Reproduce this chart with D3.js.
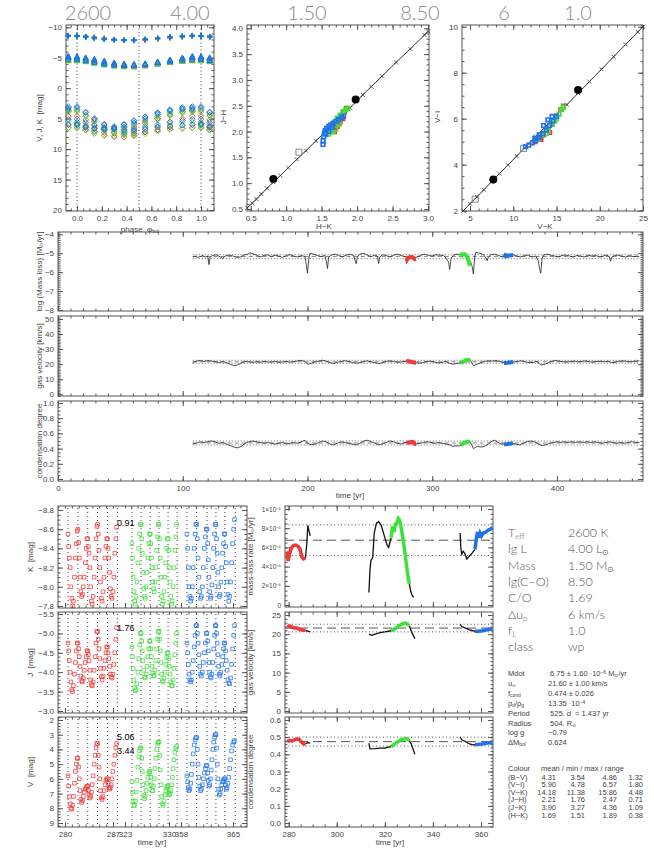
<!DOCTYPE html>
<html>
<head>
<meta charset="utf-8">
<script src="https://cdn.jsdelivr.net/npm/d3@7"></script>
<style>
body { margin: 0; background: #fff; }
svg { display: block; font-family: "Liberation Sans", Arial, sans-serif; }
.tick text { font-size: 8px; fill: #444; font-family: "Liberation Sans", Arial, sans-serif; }
.tick line { stroke: #555; }
.small .tick text { font-size: 6.5px; }
text { white-space: pre; }
</style>
</head>
<body>
<svg id="chart" width="654" height="861"></svg>
<script>
// ---------------- data ----------------
var topNumbers = ["2600", "4.00", "1.50", "8.50", "6", "1.0"];

// bolometric phase of the samples inside one pulsation cycle
var cyclePhase = [0, 0.07, 0.14, 0.22, 0.3, 0.38, 0.46, 0.55, 0.65, 0.75, 0.85, 0.93];

// start of each cycle (maximum light) in the three time windows [yr]
var redStarts = [280.44, 281.88, 283.31, 284.75, 286.19, 287.63];
var greenStarts = [324.1, 325.55, 327.0, 328.4, 329.85, 331.3];
var blueStarts = [358.8, 360.1, 361.5, 362.7, 363.9, 365.3];

var kRed = [
  [-8.55,-8.42,-8.3,-8.2,-8.0,-7.88,-7.8,-7.85,-8.1,-8.3,-8.45,-8.58],
  [-8.6,-8.46,-8.3,-8.1,-7.95,-7.9,-7.92,-8.0,-8.1,-8.25,-8.4,-8.5],
  [-8.5,-8.42,-8.35,-8.2,-8.0,-7.85,-7.82,-7.9,-8.1,-8.3,-8.5,-8.63],
  [-8.65,-8.55,-8.38,-8.2,-8.05,-7.88,-7.85,-7.95,-8.1,-8.3,-8.42,-8.5],
  [-8.5,-8.4,-8.3,-8.15,-7.98,-7.9,-7.88,-7.95,-8.1,-8.35,-8.5,-8.62]];
var kGreen = [
  [-8.45,-8.3,-8.1,-7.95,-7.85,-7.82,-7.9,-8.05,-8.25,-8.4,-8.55,-8.65],
  [-8.65,-8.5,-8.35,-8.15,-7.98,-7.9,-7.88,-8.0,-8.15,-8.3,-8.45,-8.55],
  [-8.55,-8.45,-8.3,-8.2,-8.05,-7.98,-7.95,-8.05,-8.2,-8.38,-8.52,-8.65],
  [-8.65,-8.5,-8.3,-8.1,-7.9,-7.82,-7.85,-7.95,-8.1,-8.25,-8.4,-8.5],
  [-8.5,-8.38,-8.2,-8.05,-7.9,-7.82,-7.85,-8.0,-8.2,-8.38,-8.52,-8.65]];
var kBlue = [
  [-8.55,-8.4,-8.2,-8.0,-7.9,-7.85,-7.88,-8.0,-8.2,-8.4,-8.55,-8.65],
  [-8.65,-8.5,-8.3,-8.1,-7.95,-7.88,-7.9,-8.0,-8.2,-8.4,-8.52,-8.6],
  [-8.6,-8.45,-8.28,-8.1,-7.95,-7.88,-7.9,-8.02,-8.2,-8.4,-8.55,-8.65],
  [-8.65,-8.5,-8.35,-8.15,-8.0,-7.9,-7.92,-8.05,-8.2,-8.35,-8.45,-8.55],
  [-8.55,-8.42,-8.25,-8.05,-7.92,-7.85,-7.9,-8.05,-8.25,-8.45,-8.6,-8.7]];

var jRed = [
  [-4.75,-4.55,-4.3,-4.0,-3.75,-3.55,-3.5,-3.65,-3.95,-4.25,-4.55,-4.75],
  [-4.75,-4.6,-4.4,-4.15,-3.9,-3.78,-3.75,-3.85,-4.05,-4.25,-4.4,-4.55],
  [-4.55,-4.45,-4.3,-4.05,-3.8,-3.68,-3.65,-3.75,-4.05,-4.4,-4.75,-5.05],
  [-5.05,-4.85,-4.6,-4.35,-4.1,-3.88,-3.8,-3.9,-4.1,-4.3,-4.5,-4.65],
  [-4.65,-4.5,-4.35,-4.15,-3.95,-3.88,-3.85,-3.95,-4.2,-4.5,-4.85,-5.15]];
var jGreen = [
  [-4.65,-4.4,-4.1,-3.8,-3.6,-3.52,-3.55,-3.7,-4.0,-4.35,-4.7,-5.0],
  [-5.0,-4.8,-4.55,-4.3,-4.05,-3.88,-3.85,-3.95,-4.15,-4.4,-4.6,-4.8],
  [-4.8,-4.6,-4.4,-4.15,-3.98,-3.9,-3.92,-4.05,-4.3,-4.6,-4.85,-5.05],
  [-5.05,-4.85,-4.55,-4.25,-3.95,-3.78,-3.75,-3.85,-4.0,-4.2,-4.38,-4.5],
  [-4.5,-4.35,-4.15,-3.95,-3.75,-3.65,-3.65,-3.8,-4.1,-4.45,-4.75,-5.0]];
var jBlue = [
  [-4.75,-4.5,-4.2,-3.95,-3.8,-3.75,-3.8,-4.0,-4.3,-4.65,-4.95,-5.2],
  [-5.2,-5.0,-4.75,-4.45,-4.15,-3.95,-3.9,-4.0,-4.25,-4.5,-4.75,-5.0],
  [-5.0,-4.8,-4.55,-4.25,-4.0,-3.88,-3.85,-3.95,-4.25,-4.6,-4.95,-5.2],
  [-5.2,-5.0,-4.75,-4.45,-4.15,-3.95,-3.9,-4.0,-4.2,-4.4,-4.6,-4.75],
  [-4.75,-4.55,-4.3,-4.05,-3.8,-3.72,-3.7,-3.85,-4.2,-4.6,-4.95,-5.2]];

var vRed = [
  [5.8,6.5,7.2,7.7,8.0,8.05,7.8,7.2,6.3,5.5,5.0,4.6],
  [4.6,5.2,6.0,6.8,7.4,7.6,7.5,7.2,6.9,6.7,6.6,6.5],
  [6.5,6.8,7.1,7.3,7.2,6.9,6.4,5.8,5.0,4.4,3.9,3.6],
  [3.6,4.4,5.2,6.0,6.8,7.3,7.4,7.2,6.8,6.4,6.1,6.0],
  [6.0,6.3,6.6,6.7,6.6,6.4,6.0,5.5,5.0,4.4,3.9,3.6]];
var vGreen = [
  [6.2,6.9,7.5,7.8,7.8,7.5,6.9,6.1,5.2,4.5,4.1,3.9],
  [3.9,4.6,5.5,6.4,7.1,7.35,7.2,6.8,6.3,5.9,5.6,5.5],
  [5.5,5.9,6.4,6.8,6.8,6.5,6.0,5.3,4.6,4.0,3.6,3.5],
  [3.5,4.4,5.4,6.4,7.2,7.7,7.8,7.5,7.1,6.8,6.6,6.5],
  [6.5,6.9,7.1,7.0,6.8,6.4,5.9,5.3,4.7,4.2,3.9,3.8]];
var vBlue = [
  [5.8,6.2,6.6,6.8,6.7,6.3,5.7,5.0,4.3,3.7,3.35,3.2],
  [3.2,4.0,5.0,5.9,6.5,6.8,6.7,6.4,6.0,5.6,5.3,5.1],
  [5.1,5.6,6.1,6.5,6.4,6.0,5.4,4.7,4.0,3.5,3.15,3.0],
  [3.0,3.9,5.0,6.0,6.7,7.1,7.0,6.7,6.4,6.2,6.1,6.0],
  [6.0,6.4,6.7,6.6,6.3,5.9,5.3,4.7,4.1,3.7,3.5,3.4]];

// colour-colour diagrams
var refHK = [0.45,0.52,0.58,0.65,0.73,0.82,0.92,1.03,1.15,1.28,1.42,1.57,1.73,1.9,2.08,2.2,2.35,2.55,2.75,2.95,3.0];
var refJH = [0.52,0.61,0.69,0.79,0.9,1.02,1.15,1.3,1.46,1.63,1.82,2.02,2.24,2.46,2.71,2.87,3.07,3.34,3.6,3.87,3.94];
var refVK = [4.23,5,5.8,6.6,7.5,8.4,9.4,10.4,11.5,12.6,13.8,15,16.2,17.5,18.8,20.2,21.6,23,24.4,25];
var refVI = [2.0,2.3,2.6,2.91,3.26,3.61,3.99,4.38,4.8,5.22,5.68,6.15,6.61,7.11,7.61,8.15,8.69,9.23,9.77,10.0];
var dotHK = [0.82, 1.98], dotJH = [1.08, 2.62];
var dotVK = [7.7, 17.5], dotVI = [3.36, 7.25];
var boxHK = [1.18], boxJH = [1.6];
var boxVK = [11.2, 5.6], boxVI = [4.71, 2.5];

var hkRed = [1.62,1.66,1.7,1.74,1.78,1.82,1.85,1.68,1.72,1.76,1.8,1.64];
var jhRed = [2.02,2.05,2.12,2.2,2.3,2.38,2.45,2.0,2.1,2.18,2.25,2.1];
var hkGreen = [1.6,1.64,1.68,1.72,1.76,1.8,1.84,1.87,1.66,1.7,1.75,1.62,1.78];
var jhGreen = [1.95,2.1,2.18,2.26,2.32,2.38,2.42,2.45,2.0,2.05,2.15,2.0,2.28];
var hkBlue = [1.52,1.52,1.53,1.54,1.55,1.57,1.6,1.63,1.66,1.7,1.74,1.78,1.81,1.56,1.6,1.65];
var jhBlue = [1.75,1.82,1.9,1.97,2.02,2.06,2.1,2.13,2.16,2.2,2.23,2.27,2.3,1.95,2.0,2.08];

var vkRed = [12.5,13,13.5,14,14.5,15,15.5,15.8,13.2,14.2];
var viRed = [5.0,5.15,5.3,5.5,5.8,6.1,6.4,6.55,5.1,5.4];
var vkGreen = [12.8,13.4,14,14.5,15,15.3,15.6,15.8,13.8,14.8];
var viGreen = [5.1,5.3,5.5,5.75,6.0,6.2,6.4,6.5,5.35,5.9];
var vkBlue = [11.4,11.8,12.2,12.6,13,13.4,13.8,14.2,14.6,15,13.5,14,14.5,12.5,13];
var viBlue = [4.78,4.85,4.95,5.05,5.2,5.35,5.5,5.7,5.9,6.1,5.7,5.95,6.1,5.15,5.3];

// long time series [yr, value]
var massLossLog = [[108,-5.2],[110,-5.15],[112,-5.22],[114,-5.18],[116,-5.12],[118,-5.2],[120,-5.15],[121,-5.6],[122,-5.2],[124,-5.12],[127,-5.08],[130,-5.2],[132,-5.28],[134,-5.15],[137,-5.1],[140,-5.14],[143,-5.22],[146,-5.2],[149,-5.1],[152,-5.05],[154,-4.98],[157,-5.05],[160,-5.12],[162,-5.2],[165,-5.12],[168,-5.08],[171,-5.18],[174,-5.1],[177,-5.15],[180,-5.22],[183,-5.12],[186,-5.08],[189,-5.15],[192,-5.2],[195,-5.12],[198,-5.18],[199,-5.6],[200,-6.05],[201,-5.3],[202,-5.0],[205,-5.05],[208,-5.12],[211,-5.18],[214,-5.12],[215,-5.4],[216,-5.8],[217,-5.2],[219,-5.1],[222,-5.05],[225,-5.12],[228,-5.2],[231,-5.1],[234,-5.05],[237,-5.12],[238,-5.35],[239,-5.55],[240,-5.2],[242,-5.05],[245,-5.0],[248,-5.1],[251,-5.18],[254,-5.1],[256,-5.15],[257,-5.55],[258,-5.2],[260,-5.08],[263,-5.12],[266,-5.2],[269,-5.1],[272,-5.05],[275,-5.12],[278,-5.18],[280,-5.22],[283,-5.2],[286,-5.25],[288,-5.2],[291,-5.1],[294,-5.05],[297,-5.12],[300,-5.15],[303,-5.08],[306,-5.1],[309,-5.12],[311,-5.25],[313,-5.45],[314,-5.85],[315,-5.3],[317,-5.1],[320,-5.05],[323,-5.1],[326,-5.05],[329,-5.25],[331,-5.5],[332,-5.7],[333,-6.1],[334,-5.2],[335,-4.95],[338,-5.0],[341,-5.08],[343,-5.25],[344,-5.4],[345,-5.2],[347,-5.08],[350,-5.05],[353,-5.12],[356,-5.2],[359,-5.15],[362,-5.12],[365,-5.08],[368,-5.15],[371,-5.2],[374,-5.12],[377,-5.1],[380,-5.2],[383,-5.15],[385,-5.4],[386,-5.8],[387,-6.05],[388,-5.3],[389,-5.1],[392,-5.05],[395,-5.1],[398,-5.15],[401,-5.2],[404,-5.12],[407,-5.1],[410,-5.15],[413,-5.2],[416,-5.12],[419,-5.15],[422,-5.2],[425,-5.1],[428,-5.15],[431,-5.12],[434,-5.2],[437,-5.15],[440,-5.1],[442,-5.2],[443,-5.42],[444,-5.2],[446,-5.12],[449,-5.1],[452,-5.15],[455,-5.2],[458,-5.12],[461,-5.18],[464,-5.15],[466,-5.2]];
var gasVelocity = [[108,21],[111,22],[114,22.5],[117,21.8],[120,22.4],[123,22],[126,21.5],[129,21.2],[132,21.6],[135,21],[138,20],[141,19],[144,19.5],[147,21],[150,21.8],[153,21.5],[156,21.2],[159,21.6],[162,21.3],[165,21.8],[168,21.5],[171,21.4],[174,21.7],[177,21.2],[180,21.5],[183,21.8],[186,21.4],[189,21.6],[192,22.2],[195,22.5],[198,21.8],[200,20],[203,20.5],[206,21.5],[209,22],[212,22.6],[215,22],[218,21],[221,20.5],[224,21.2],[227,21.8],[230,22.3],[233,21.8],[236,21.2],[239,20.6],[242,21],[245,21.8],[248,22.2],[251,21.6],[254,21],[257,20.4],[260,21],[263,21.8],[266,22.2],[269,21.8],[272,21.2],[275,21.5],[278,22],[281,22],[284,21.5],[287,21],[290,20.6],[293,21.2],[296,21.8],[299,22],[302,21.4],[305,20.8],[308,21.2],[311,21.8],[314,20.5],[317,20],[320,20.5],[323,21],[326,22],[329,22.8],[331,22],[333,19],[336,20],[339,21],[342,21.8],[345,22.3],[348,22],[351,22.4],[354,21.8],[357,21],[360,21],[363,21.2],[366,21.5],[369,22],[372,22.2],[375,21.5],[378,21],[381,21.2],[384,21.8],[387,19.5],[390,19.8],[393,21],[396,22],[399,22.4],[402,22],[405,21.6],[408,21.4],[411,21.8],[414,22],[417,21.5],[420,21.8],[423,22.2],[426,21.6],[429,21.4],[432,21.8],[435,22],[438,21.6],[441,22],[444,21],[447,21.4],[450,22],[453,22.2],[456,21.8],[459,21.6],[462,22],[466,22.2]];
var condensation = [[108,0.46],[111,0.47],[114,0.49],[117,0.48],[120,0.49],[123,0.5],[126,0.49],[129,0.47],[132,0.48],[135,0.46],[138,0.44],[141,0.42],[144,0.41],[147,0.43],[150,0.47],[153,0.49],[156,0.5],[159,0.49],[162,0.48],[165,0.47],[168,0.48],[171,0.47],[174,0.46],[177,0.47],[180,0.48],[183,0.46],[186,0.47],[189,0.48],[192,0.47],[195,0.49],[198,0.51],[200,0.47],[203,0.45],[206,0.46],[209,0.48],[212,0.5],[215,0.49],[218,0.46],[221,0.45],[224,0.47],[227,0.49],[230,0.48],[233,0.47],[236,0.46],[239,0.45],[242,0.47],[245,0.5],[248,0.51],[251,0.49],[254,0.47],[257,0.45],[260,0.46],[263,0.48],[266,0.5],[269,0.49],[272,0.47],[275,0.46],[278,0.48],[281,0.48],[284,0.49],[287,0.46],[290,0.47],[293,0.48],[296,0.49],[299,0.48],[302,0.47],[305,0.48],[308,0.47],[311,0.46],[314,0.45],[316,0.43],[319,0.435],[322,0.435],[325,0.46],[328,0.48],[330,0.49],[332,0.44],[333,0.4],[336,0.43],[339,0.42],[342,0.43],[345,0.46],[348,0.5],[350,0.51],[352,0.49],[355,0.46],[358,0.46],[361,0.465],[364,0.47],[367,0.46],[370,0.45],[373,0.47],[376,0.49],[379,0.5],[382,0.49],[385,0.46],[388,0.44],[391,0.45],[394,0.47],[397,0.48],[400,0.49],[403,0.48],[406,0.49],[409,0.48],[412,0.49],[415,0.48],[418,0.49],[421,0.48],[424,0.49],[427,0.48],[430,0.49],[433,0.48],[436,0.47],[439,0.48],[442,0.49],[445,0.48],[448,0.47],[451,0.48],[454,0.47],[457,0.48],[460,0.49],[463,0.48],[466,0.48]];

// detailed windows: mass-loss rate [1e-6 Msun/yr]
var mdotRed = [[279.4,5.6],[279.8,4.6],[280.3,5.2],[281,5.9],[282,6.2],[283,6.25],[284,6.1],[284.8,5.8],[285.5,5.0],[286.2,4.8],[287,4.9]];
var mdotBlack1 = [[287,4.9],[287.6,6.5],[288,8.3],[288.4,7.8],[289,7.2]];
var mdotBlack2 = [[313.4,1.3],[313.8,3.5],[314.2,4.6],[315,5.0],[315.6,7.5],[316.5,8.5],[317.4,8.7],[318.5,8.3],[319.8,7.2],[321,6.2],[321.6,6.0],[322.6,7.0]];
var mdotGreen = [[322.6,7.0],[323.2,8.2],[323.8,7.6],[324.4,8.4],[325,8.6],[325.6,9.0],[326.2,8.8],[327,7.8],[327.8,6.5],[328.6,5.0],[329.4,3.4],[330.2,2.2]];
var mdotBlack3 = [[330.2,2.2],[330.8,1.4],[331.4,1.0],[332,0.8]];
var mdotBlack4 = [[351.3,7.5],[351.6,6.0],[352,5.3],[352.6,5.6],[353.2,5.4],[354.1,4.8],[355.2,5.1],[356.3,5.4],[357.5,5.8]];
var mdotBlue = [[357.5,5.8],[358,6.8],[358.5,7.6],[359,7.0],[359.6,7.5],[360.2,7.2],[361,7.5],[362,7.6],[363,7.8],[364,7.9],[364.8,8.1]];

var velRed = [[279.4,22.0],[280.5,22.1],[281.5,21.8],[282.5,21.6],[283.5,21.6],[284.5,21.3],[285.5,21.1],[286.5,21.0],[287,21.0]];
var velBlack1 = [[287,21.0],[288,20.8],[289,20.6]];
var velBlack2 = [[313.4,20.0],[314.5,19.7],[316,20.0],[318,20.4],[320,20.6],[322.6,20.9]];
var velGreen = [[322.6,20.9],[324,21.3],[325.5,22.0],[327,22.6],[328.5,22.9],[329.5,22.6],[330.2,22.2]];
var velBlack3 = [[330.2,22.2],[331,20.8],[332,19.5],[332.5,18.8]];
var velBlack4 = [[351.3,22.6],[352,22.0],[353.5,21.6],[355,21.2],[356.5,20.9],[357.5,20.8]];
var velBlue = [[357.5,20.8],[359,20.8],[360.5,20.9],[362,21.1],[363.5,21.3],[364.8,21.4]];

var condRed = [[279.4,0.475],[280.5,0.48],[281.5,0.478],[282.5,0.485],[283.5,0.49],[284.5,0.485],[285.5,0.47],[286.5,0.46],[287,0.462]];
var condBlack1 = [[287,0.462],[288,0.468],[289,0.465]];
var condBlack2 = [[313.4,0.465],[313.8,0.432],[316,0.433],[318,0.436],[320,0.437],[322.6,0.445]];
var condGreen = [[322.6,0.445],[324,0.46],[325.5,0.475],[327,0.485],[328.5,0.492],[329.5,0.488],[330.2,0.48]];
var condBlack3 = [[330.2,0.48],[331,0.46],[332,0.42],[332.5,0.4]];
var condBlack4 = [[351.3,0.5],[352,0.485],[353.5,0.475],[355,0.462],[356.5,0.455],[357.5,0.456]];
var condBlue = [[357.5,0.456],[359,0.458],[360.5,0.46],[362,0.465],[363.5,0.468],[364.8,0.472]];

// model parameters and statistics
var mdotMean = 6.75, mdotSig = 1.60, velMean = 21.60, velSig = 1.00, condMean = 0.474, condSig = 0.026;
var ampNotes = ["0.91", "1.76", "5.06", "3.44"];
var paramNames = [[["T"],["eff","sub"]], [["lg L"]], [["Mass"]], [["lg(C−O)"]], [["C/O"]], [["Δu"],["p","sub"]], [["f"],["L","sub"]], [["class"]]];
var paramValues = [[["2600 K"]], [["4.00 L"],["⊙","sub"]], [["1.50 M"],["⊙","sub"]], [["8.50"]], [["1.69"]], [["6 km/s"]], [["1.0"]], [["wp"]]];
var statNames = [[["Mdot"]], [["u"],["∞","sub"]], [["f"],["cond","sub"]], [["ρ"],["d","sub"],["/ρ"],["g","sub"]], [["Period"]], [["Radius"]], [["log g"]], [["ΔM"],["bol","sub"]]];
var statValues = [[[" 6.75 ± 1.60 ·10"],["−6","sup"],[" M"],["⊙","sub"],["/yr"]], [["21.60 ± 1.00 km/s"]], [["0.474 ± 0.026"]], [["13.35 ·10"],["−4","sup"]], [[" 525. d  = 1.437 yr"]], [[" 504. R"],["⊙","sub"]], [["−0.79"]], [["0.624"]]];
var colourNames = ["(B−V)", "(V−I)", "(V−K)", "(J−H)", "(J−K)", "(H−K)"];
var colourMean = [4.31, 5.90, 14.18, 2.21, 3.90, 1.69];
var colourMin = [3.54, 4.78, 11.38, 1.76, 3.27, 1.51];
var colourMax = [4.86, 6.57, 15.86, 2.47, 4.36, 1.89];
var colourRange = [1.32, 1.80, 4.48, 0.71, 1.09, 0.38];

// ---------------- drawing ----------------
var red = "#f03838", green = "#3ee03a", blue = "#1f72ea", ink = "#444";
var svg = d3.select("#chart");
var blank = function() { return ""; };

function steps(a, b, s) {
    return d3.range(Math.ceil(a / s - 1e-6), Math.floor(b / s + 1e-6) + 1).map(function(i) { return +(i * s).toFixed(6); });
}

function rich(t, parts) {
    parts.forEach(function(p) {
        var s = t.append("tspan").text(p[0]);
        if (p[1] === "sub") s.attr("baseline-shift", "-25%").attr("font-size", "65%");
        if (p[1] === "sup") s.attr("baseline-shift", "45%").attr("font-size", "65%");
    });
    return t;
}

function label(x, y, parts, size, rot, anchor) {
    var t = svg.append("text").attr("font-size", size).attr("fill", ink)
        .attr("text-anchor", anchor || "middle")
        .attr("transform", "translate(" + x + "," + y + ")" + (rot ? " rotate(-90)" : ""));
    return rich(t, parts);
}

// IDL style box: ticks inward on all four sides
function frame(b, x, y, o) {
    var g = svg.append("g").attr("class", o.cls || null);
    function add(gen, tr, vals, len, fmt) {
        g.append("g").attr("transform", tr)
            .call(gen.tickValues(vals).tickSize(len).tickPadding(4).tickFormat(fmt))
            .call(function(s) { s.select(".domain").remove(); });
    }
    if (o.xt) {
        var xd = [x.invert(b.l), x.invert(b.r)].sort(d3.ascending);
        var xM = steps(xd[0], xd[1], o.xt), xm = steps(xd[0], xd[1], o.xm);
        add(d3.axisBottom(x), "translate(0," + b.b + ")", xm, -2.5, blank);
        add(d3.axisBottom(x), "translate(0," + b.b + ")", xM, -5, o.xf || blank);
        add(d3.axisTop(x), "translate(0," + b.t + ")", xm, -2.5, blank);
        add(d3.axisTop(x), "translate(0," + b.t + ")", xM, -5, blank);
    }
    var yd = [y.invert(b.b), y.invert(b.t)].sort(d3.ascending);
    var yM = steps(yd[0], yd[1], o.yt), ym = steps(yd[0], yd[1], o.ym);
    add(d3.axisLeft(y), "translate(" + b.l + ",0)", ym, -2.5, blank);
    add(d3.axisLeft(y), "translate(" + b.l + ",0)", yM, -5, o.yf || blank);
    add(d3.axisRight(y), "translate(" + b.r + ",0)", ym, -2.5, blank);
    add(d3.axisRight(y), "translate(" + b.r + ",0)", yM, -5, blank);
    g.append("rect").attr("x", b.l).attr("y", b.t).attr("width", b.r - b.l).attr("height", b.b - b.t)
        .attr("fill", "none").attr("stroke", "#555");
    return g;
}

function pathOf(x, y) {
    return d3.line().x(function(d) { return x(d[0]); }).y(function(d) { return y(d[1]); });
}

function hline(x0, x1, yy, dash, col) {
    svg.append("line").attr("x1", x0).attr("x2", x1).attr("y1", yy).attr("y2", yy)
        .attr("stroke", col || "#555").attr("stroke-width", 1).attr("stroke-dasharray", dash);
}

var markPlus = "M-2.5,0H2.5M0,-2.5V2.5";
var markDiamond = "M0,-2.8L2.8,0L0,2.8L-2.8,0Z";
var markTri = "M0,-2.8L2.6,2H-2.6Z";
var markSquare = "M-1.8,-1.8H1.8V1.8H-1.8Z";

function marks(data, x, y, path, col, sw) {
    svg.append("g").selectAll("path").data(data).enter().append("path")
        .attr("d", path)
        .attr("transform", function(d) { return "translate(" + x(d[0]) + "," + y(d[1]) + ")"; })
        .attr("fill", "none").attr("stroke", col).attr("stroke-width", sw || 1);
}

// photometric samples from the cycle tables
function photPoints(starts, K, J, V, col) {
    var pts = [];
    K.forEach(function(row, i) {
        row.forEach(function(k, j) {
            var t = starts[i] + cyclePhase[j] * (starts[i + 1] - starts[i]);
            pts.push({t: t, ph: cyclePhase[j], K: k, J: J[i][j], V: V[i][j], c: col});
        });
    });
    return pts;
}
var photo = [
    photPoints(redStarts, kRed, jRed, vRed, red),
    photPoints(greenStarts, kGreen, jGreen, vGreen, green),
    photPoints(blueStarts, kBlue, jBlue, vBlue, blue)
];

// big header numbers
var topNumX = [88, 190, 307, 420, 504, 578];
topNumbers.forEach(function(s, i) {
    svg.append("text").attr("x", topNumX[i]).attr("y", 20).attr("text-anchor", "middle")
        .attr("font-size", 20).attr("fill", "#8a8a8a").attr("font-family", "Lato, 'Liberation Sans', sans-serif")
        .attr("font-weight", 300).text(s);
});

// ---- top left: light curves folded on phase ----
(function() {
    var b = {l: 66, r: 214, t: 25, b: 211};
    var x = d3.scaleLinear().domain([0, 1]).range([77, 201]);
    var y = d3.scaleLinear().domain([-10, 20]).range([27.3, 210]);
    frame(b, x, y, {xt: 0.2, xm: 0.05, xf: d3.format(".1f"), yt: 5, ym: 1, yf: d3.format("d")});
    [0, 0.5, 1].forEach(function(p) {
        svg.append("line").attr("x1", x(p)).attr("x2", x(p)).attr("y1", b.t).attr("y2", b.b)
            .attr("stroke", ink).attr("stroke-dasharray", "1,2.5");
    });
    photo.forEach(function(set) {
        var pts = [];
        set.forEach(function(d) {
            [-1, 0, 1].forEach(function(s) {
                var p = d.ph + s;
                if (p >= -0.1 && p <= 1.1) pts.push({p: p, d: d});
            });
        });
        var col = set[0].c;
        marks(pts.map(function(q) { return [q.p, q.d.V]; }), x, y, markDiamond, col, 0.9);
        marks(pts.map(function(q) { return [q.p, q.d.J]; }), x, y, markTri, col, 0.9);
        marks(pts.map(function(q) { return [q.p, q.d.K]; }), x, y, markPlus, col, 1.2);
    });
    label(42, 118, [["V, J, K  [mag]"]], 8, true);
    label(140, 232, [["phase  φ"], ["bol", "sub"]], 8);
})();

// ---- colour-colour diagrams ----
function colourPanel(b, x, y, o, ref, dots, boxes, sets) {
    frame(b, x, y, o);
    var refPts = ref[0].map(function(v, i) { return [v, ref[1][i]]; });
    svg.append("path").attr("d", pathOf(x, y)(refPts)).attr("fill", "none").attr("stroke", "#333");
    marks(refPts, x, y, "M-2,-2L2,2M-2,2L2,-2", "#333", 0.8);
    marks(boxes[0].map(function(v, i) { return [v, boxes[1][i]]; }), x, y, "M-3,-3H3V3H-3Z", "#666", 0.8);
    sets.forEach(function(s) {
        marks(s[0].map(function(v, i) { return [v, s[1][i]]; }), x, y, markSquare, s[2], 1.6);
    });
    svg.append("g").selectAll("circle").data(dots[0]).enter().append("circle")
        .attr("cx", function(d) { return x(d); }).attr("cy", function(d, i) { return y(dots[1][i]); })
        .attr("r", 4).attr("fill", "#000");
}
colourPanel({l: 247, r: 429, t: 25, b: 211},
    d3.scaleLinear().domain([0.5, 3.0]).range([250.7, 428]),
    d3.scaleLinear().domain([0.5, 4.0]).range([209, 28.3]),
    {xt: 0.5, xm: 0.1, xf: d3.format(".1f"), yt: 0.5, ym: 0.1, yf: d3.format(".1f")},
    [refHK, refJH], [dotHK, dotJH], [boxHK, boxJH],
    [[hkRed, jhRed, red], [hkGreen, jhGreen, green], [hkBlue, jhBlue, blue]]);
colourPanel({l: 462, r: 643, t: 25, b: 211},
    d3.scaleLinear().domain([5, 25]).range([470, 643]),
    d3.scaleLinear().domain([2, 10]).range([210.7, 26.7]),
    {xt: 5, xm: 1, xf: d3.format("d"), yt: 2, ym: 0.5, yf: d3.format("d")},
    [refVK, refVI], [dotVK, dotVI], [boxVK, boxVI],
    [[vkRed, viRed, red], [vkGreen, viGreen, green], [vkBlue, viBlue, blue]]);
label(324, 229, [["H−K"]], 8);
label(226, 117, [["J−H"]], 8, true);
label(545, 229, [["V−K"]], 8);
label(440, 117, [["V−I"]], 8, true);

// ---- long time series ----
(function() {
    var x = d3.scaleLinear().domain([0, 400]).range([58, 557]);
    var panels = [
        {b: {l: 58, r: 643, t: 232, b: 311}, y: d3.scaleLinear().domain([-8, -4]).range([310, 234.3]), yt: 1, ym: 0.1, yf: d3.format("d"),
         data: massLossLog, lvl: [Math.log10((mdotMean + mdotSig) * 1e-6), Math.log10(mdotMean * 1e-6), Math.log10((mdotMean - mdotSig) * 1e-6)],
         segs: [mdotRed, mdotGreen, mdotBlue].map(function(s) { return s.map(function(d) { return [d[0], Math.log10(d[1] * 1e-6)]; }); }),
         name: [["log (Mass loss) [M"], ["⊙", "sub"], ["/yr]"]]},
        {b: {l: 58, r: 643, t: 316, b: 396}, y: d3.scaleLinear().domain([0, 50]).range([394.3, 319]), yt: 10, ym: 1, yf: d3.format("d"),
         data: gasVelocity, lvl: [velMean + velSig, velMean, velMean - velSig], segs: [velRed, velGreen, velBlue],
         name: [["gas velocity [km/s]"]]},
        {b: {l: 58, r: 643, t: 401, b: 481}, y: d3.scaleLinear().domain([0, 1]).range([479, 403]), yt: 0.2, ym: 0.05, yf: d3.format(".1f"),
         data: condensation, lvl: [condMean + condSig, condMean, condMean - condSig], segs: [condRed, condGreen, condBlue],
         name: [["condensation degree"]]}
    ];
    panels.forEach(function(p, i) {
        frame(p.b, x, p.y, {xt: 100, xm: 10, xf: i === 2 ? d3.format("d") : null, yt: p.yt, ym: p.ym, yf: p.yf});
        hline(x(108), x(466), p.y(p.lvl[0]), "1,2", "#666");
        hline(x(108), x(466), p.y(p.lvl[2]), "1,2", "#666");
        hline(x(108), x(466), p.y(p.lvl[1]), "4,3", "#888");
        svg.append("path").attr("d", pathOf(x, p.y)(p.data)).attr("fill", "none").attr("stroke", "#222").attr("stroke-width", 0.8);
        [red, green, blue].forEach(function(c, k) {
            svg.append("path").attr("d", pathOf(x, p.y)(p.segs[k])).attr("fill", "none").attr("stroke", c).attr("stroke-width", 4);
        });
        label(42, (p.b.t + p.b.b) / 2, p.name, 8, true);
    });
    label(350, 498, [["time [yr]"]], 8);
})();

// ---- bottom left: light curves in the three windows ----
(function() {
    var segs = [
        {x: d3.scaleLinear().domain([280, 287]).range([65, 113]), win: [58, 119], starts: redStarts},
        {x: d3.scaleLinear().domain([323, 330]).range([125, 169]), win: [119, 177], starts: greenStarts},
        {x: d3.scaleLinear().domain([358, 365]).range([181, 233]), win: [177, 247], starts: blueStarts}
    ];
    var panels = [
        {b: {l: 58, r: 247, t: 506, b: 608}, y: d3.scaleLinear().domain([-8.8, -7.8]).range([510, 606]), yt: 0.2, ym: 0.05, yf: d3.format(".1f"), key: "K", name: "K  [mag]"},
        {b: {l: 58, r: 247, t: 612, b: 713}, y: d3.scaleLinear().domain([-5.5, -3.0]).range([614, 711]), yt: 0.5, ym: 0.1, yf: d3.format(".1f"), key: "J", name: "J  [mag]"},
        {b: {l: 58, r: 247, t: 717, b: 827}, y: d3.scaleLinear().domain([2, 9]).range([720, 823]), yt: 1, ym: 0.2, yf: d3.format("d"), key: "V", name: "V  [mag]"}
    ];
    panels.forEach(function(p, i) {
        frame(p.b, d3.scaleLinear(), p.y, {yt: p.yt, ym: p.ym, yf: p.yf});
        segs.forEach(function(s) {
            var yrs = steps(s.x.invert(s.win[0]), s.x.invert(s.win[1]), 1);
            [[d3.axisBottom(s.x), p.b.b], [d3.axisTop(s.x), p.b.t]].forEach(function(a) {
                svg.append("g").attr("transform", "translate(0," + a[1] + ")")
                    .call(a[0].tickValues(yrs).tickSize(-2.5).tickFormat(blank)).call(function(g) { g.select(".domain").remove(); });
            });
            svg.append("g").attr("transform", "translate(0," + p.b.b + ")")
                .call(d3.axisBottom(s.x).tickValues(s.x.domain()).tickSize(-5).tickPadding(4).tickFormat(i === 2 ? d3.format("d") : blank))
                .call(function(g) { g.select(".domain").remove(); });
            s.starts.forEach(function(t) {
                svg.append("line").attr("x1", s.x(t)).attr("x2", s.x(t)).attr("y1", p.b.t + 2).attr("y2", p.b.b - 2)
                    .attr("stroke", ink).attr("stroke-dasharray", "1,3");
            });
        });
        photo.forEach(function(set, k) {
            var s = segs[k];
            svg.append("g").selectAll("path").data(set).enter().append("path")
                .attr("d", markSquare)
                .attr("transform", function(d) { return "translate(" + s.x(d.t) + "," + p.y(d[p.key]) + ")"; })
                .attr("fill", "none").attr("stroke", set[0].c).attr("stroke-width", 0.9).attr("opacity", 0.85);
        });
        label(33, (p.b.t + p.b.b) / 2, [[p.name]], 8, true);
    });
    svg.append("text").attr("x", 117).attr("y", 526).attr("font-size", 9).text(ampNotes[0]);
    svg.append("text").attr("x", 117).attr("y", 631).attr("font-size", 9).text(ampNotes[1]);
    svg.append("text").attr("x", 117).attr("y", 740).attr("font-size", 9).text(ampNotes[2]);
    svg.append("text").attr("x", 117).attr("y", 754).attr("font-size", 9).text(ampNotes[3]);
    label(152, 845, [["time [yr]"]], 8);
})();

// ---- bottom middle: wind properties in the windows ----
(function() {
    var x = d3.scaleLinear().domain([280, 360]).range([288.6, 481]);
    var sup = function(v) {
        if (v === 0) return "0";
        if (v === 10) return "1×10⁻⁵";
        return v + "×10⁻⁶";
    };
    var panels = [
        {b: {l: 285, r: 493, t: 506, b: 607}, y: d3.scaleLinear().domain([0, 10]).range([605, 509]), yt: 2, ym: 0.5, yf: sup, cls: "small",
         lvl: [mdotMean + mdotSig, mdotMean, mdotMean - mdotSig],
         black: [mdotBlack1, mdotBlack2, mdotBlack3, mdotBlack4], col: [mdotRed, mdotGreen, mdotBlue],
         name: [["mass-loss rate [M"], ["⊙", "sub"], ["/yr]"]]},
        {b: {l: 285, r: 493, t: 612, b: 713}, y: d3.scaleLinear().domain([0, 25]).range([711, 615]), yt: 5, ym: 1, yf: d3.format("d"),
         lvl: [velMean + velSig, velMean, velMean - velSig],
         black: [velBlack1, velBlack2, velBlack3, velBlack4], col: [velRed, velGreen, velBlue],
         name: [["gas velocity [km/s]"]]},
        {b: {l: 285, r: 493, t: 717, b: 827}, y: d3.scaleLinear().domain([0, 0.6]).range([823, 720]), yt: 0.1, ym: 0.02, yf: d3.format(".1f"),
         lvl: [condMean + condSig, condMean, condMean - condSig],
         black: [condBlack1, condBlack2, condBlack3, condBlack4], col: [condRed, condGreen, condBlue],
         name: [["condensation degree"]]}
    ];
    panels.forEach(function(p, i) {
        frame(p.b, x, p.y, {xt: 20, xm: 5, xf: i === 2 ? d3.format("d") : null, yt: p.yt, ym: p.ym, yf: p.yf, cls: p.cls});
        hline(p.b.l, p.b.r, p.y(p.lvl[0]), "1,2.5", "#555");
        hline(p.b.l, p.b.r, p.y(p.lvl[2]), "1,2.5", "#555");
        hline(p.b.l, p.b.r, p.y(p.lvl[1]), "9,5", "#555");
        p.black.forEach(function(s) {
            svg.append("path").attr("d", pathOf(x, p.y)(s)).attr("fill", "none").attr("stroke", "#111").attr("stroke-width", 1.3);
        });
        [red, green, blue].forEach(function(c, k) {
            svg.append("path").attr("d", pathOf(x, p.y)(p.col[k])).attr("fill", "none").attr("stroke", c).attr("stroke-width", 3.5);
        });
        label(253, (p.b.t + p.b.b) / 2, p.name, 8, true);
    });
    label(390, 845, [["time [yr]"]], 8);
})();

// ---- parameter block ----
(function() {
    var big = "Lato, 'Liberation Sans', sans-serif";
    paramNames.forEach(function(n, i) {
        var yy = 537 + i * 16.3;
        rich(svg.append("text").attr("x", 508).attr("y", yy).attr("font-size", 12.5).attr("font-family", big).attr("font-weight", 300).attr("fill", "#555"), n);
        rich(svg.append("text").attr("x", 568).attr("y", yy).attr("font-size", 12.5).attr("font-family", big).attr("font-weight", 300).attr("fill", "#555"), paramValues[i]);
    });
    statNames.forEach(function(n, i) {
        var yy = 676 + i * 9.9;
        rich(svg.append("text").attr("x", 508).attr("y", yy).attr("font-size", 7.5).attr("fill", ink), n);
        rich(svg.append("text").attr("x", 548).attr("y", yy).attr("font-size", 7.5).attr("fill", ink), statValues[i]);
    });
    svg.append("text").attr("x", 508).attr("y", 771).attr("font-size", 7.5).attr("fill", ink).text("Colour");
    svg.append("text").attr("x", 541).attr("y", 771).attr("font-size", 7.5).attr("fill", ink).text("mean / min / max / range");
    var cols = [[colourMean, 556], [colourMin, 585], [colourMax, 617], [colourRange, 643]];
    colourNames.forEach(function(n, i) {
        var yy = 779.5 + i * 7.6;
        svg.append("text").attr("x", 508).attr("y", yy).attr("font-size", 7.5).attr("fill", ink).text(n);
        cols.forEach(function(c) {
            svg.append("text").attr("x", c[1]).attr("y", yy).attr("font-size", 7.5).attr("fill", ink)
                .attr("text-anchor", "end").text(c[0][i].toFixed(2));
        });
    });
})();
</script>
</body>
</html>
